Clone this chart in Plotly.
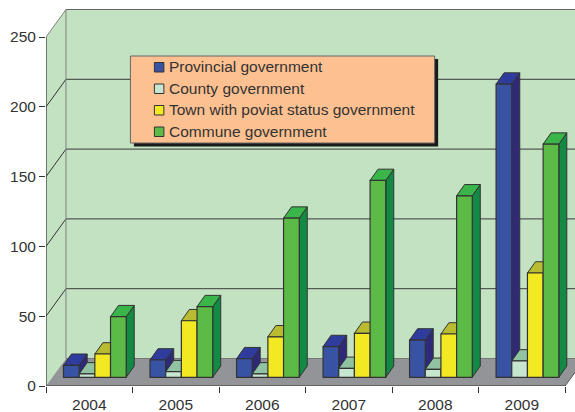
import plotly.graph_objects as go

years = ["2004", "2005", "2006", "2007", "2008", "2009"]
provincial = [8.6, 12.4, 13.3, 22, 26.7, 210]
county = [2.4, 4, 2.4, 6.4, 5.7, 11.7]
town = [16.7, 40.5, 29, 31.5, 31, 74.7]
commune = [43.4, 50.6, 114, 141, 130, 167]

series_names = ["Provincial government", "County government",
                "Town with poviat status government", "Commune government"]
series_values = [provincial, county, town, commune]
front_colors = ["#3953a4", "#c6e6d0", "#f2e922", "#5cbb47"]
top_colors = ["#2f3c9e", "#8fc3a2", "#b9bb30", "#39b54a"]
side_colors = ["#2e2a78", "#7fb392", "#a5a52a", "#138a44"]
edge = "#333333"

W, H = 575, 412
L, T, B = 45.5, 6, 26
PW, PH = W - L, H - T - B
PX_PER_CAT, PX_PER_VAL = 86.6, 1.396
xmax = PW / PX_PER_CAT
ymax = PH / PX_PER_VAL

DX, DY = 20 / PX_PER_CAT, 27.5 / PX_PER_VAL      # full floor depth
SX, SY = 5.6 / PX_PER_CAT, 8.7 / PX_PER_VAL      # bar front-plane shift
BX, BY = 8 / PX_PER_CAT, 11.3 / PX_PER_VAL       # bar depth
GAP = 0.275
BW = (1 - GAP) / 4
n = len(years)

shapes = []
annotations = []


def poly(pts):
    return "M" + " L".join(f"{x},{y}" for x, y in pts) + " Z"


def wall(pts, fill):
    shapes.append(dict(type="path", path=poly(pts), xref="x", yref="y", layer="below",
                       fillcolor=fill, line=dict(width=0)))


def seg(x0, y0, x1, y1, color, width=1, layer="below"):
    shapes.append(dict(type="line", x0=x0, y0=y0, x1=x1, y1=y1, xref="x", yref="y",
                       layer=layer, line=dict(color=color, width=width)))


wall([(0, 0), (DX, DY), (DX, 250 + DY), (0, 250)], "#c3e2c2")
wall([(DX, DY), (n + DX, DY), (n + DX, 250 + DY), (DX, 250 + DY)], "#c3e2c2")
wall([(0, 0), (n, 0), (n + DX, DY), (DX, DY)], "#929497")

for v in [50, 100, 150, 200]:
    seg(0, v, DX, v + DY, "#333333")
    seg(DX, v + DY, n + DX, v + DY, "#3a3a3a")
seg(0, 250, DX, 250 + DY, "#808080")
seg(DX, 250 + DY, n + DX, 250 + DY, "#666666")
seg(DX, DY, DX, 250 + DY, "#808080")
seg(DX, DY, n + DX, DY, "#777777")

# Axis lines
seg(0, 0, 0, 250, "#333333", 1.2, "above")
seg(0, 0, n, 0, "#333333", 1.2, "above")
seg(n, 0, n + DX, DY, "#555555", 1, "above")


# Pixel -> paper helpers for the legend box
def px(x):
    return (x - L) / PW


def py(y):
    return 1 - (y - T) / PH


def rect(x0, y0, x1, y1, fill, line=None):
    shapes.append(dict(type="rect", xref="paper", yref="paper", x0=px(x0), x1=px(x1),
                       y0=py(y1), y1=py(y0), fillcolor=fill, layer="above",
                       line=dict(color=line, width=1) if line else dict(width=0)))


rect(133.5, 59, 438, 146.5, "#1a1a1a")
rect(130, 56, 434.5, 143, "#fdc090", "#666666")
for j, name in enumerate(series_names):
    yc = 67 + j * 21.5
    rect(154, yc - 4.5, 163.5, yc + 5, front_colors[j], "#333333")
    annotations.append(dict(text=name, xref="paper", yref="paper", x=px(169), y=py(yc),
                            xanchor="left", yanchor="middle", showarrow=False,
                            align="left", xshift=-2,
                            font=dict(size=15.5, color="#333333")))

fig = go.Figure()

# Top and side faces sit behind the front plane, on the base axes
for j, (name, vals) in enumerate(zip(series_names, series_values)):
    tx, ty, sx, sy = [], [], [], []
    for i, v in enumerate(vals):
        xl = i + 0.5 + (j - 2) * BW + SX
        xr = xl + BW
        b = SY
        tx += [xl, xr, xr + BX, xl + BX, xl, None]
        ty += [b + v, b + v, b + v + BY, b + v + BY, b + v, None]
        sx += [xr, xr + BX, xr + BX, xr, xr, None]
        sy += [b, b + BY, b + v + BY, b + v, b, None]
    for fx, fy, col in ((sx, sy, side_colors[j]), (tx, ty, top_colors[j])):
        fig.add_trace(go.Scatter(x=fx, y=fy, mode="lines", fill="toself", fillcolor=col,
                                 line=dict(color=edge, width=1), showlegend=False,
                                 hoverinfo="skip", xaxis="x", yaxis="y"))

# Front faces as real bars on an overlaid, identical pair of axes
for j, (name, vals) in enumerate(zip(series_names, series_values)):
    fig.add_trace(go.Bar(name=name, x=[i + 0.5 + SX for i in range(n)], y=vals,
                         base=[SY] * n, marker=dict(color=front_colors[j],
                                                    line=dict(color=edge, width=1.2)),
                         xaxis="x2", yaxis="y2", offsetgroup=str(j), showlegend=False))

fig.update_layout(
    width=W, height=H, autosize=False, showlegend=False,
    margin=dict(l=L, r=0, t=T, b=B, pad=0, autoexpand=False),
    paper_bgcolor="white", plot_bgcolor="rgba(0,0,0,0)",
    barmode="group", bargap=GAP, bargroupgap=0,
    font=dict(family="Liberation Sans, Arial, sans-serif", color="#333333"),
    shapes=shapes, annotations=annotations,
    xaxis=dict(range=[0, xmax], tickvals=[i + 0.5 for i in range(n)], ticktext=years,
               ticks="outside", ticklen=4, tickcolor="rgba(0,0,0,0)", automargin=False,
               tickfont=dict(size=15.5, color="#333333"),
               showgrid=False, zeroline=False, showline=False,
               minor=dict(tickvals=list(range(n + 1)), ticks="outside", ticklen=6,
                          tickcolor="#333333", tickwidth=1, showgrid=False)),
    yaxis=dict(range=[0, ymax], tickvals=[0, 50, 100, 150, 200, 250],
               ticks="outside", ticklen=6, tickcolor="#333333", automargin=False,
               tickfont=dict(size=15.5, color="#333333"),
               showgrid=False, zeroline=False, showline=False),
    xaxis2=dict(overlaying="x", matches="x", visible=False),
    yaxis2=dict(overlaying="y", matches="y", visible=False),
)

fig.write_html("out.html", post_script="document.body.style.margin='0';document.body.style.overflow='hidden';",
               config=dict(displayModeBar=False))
